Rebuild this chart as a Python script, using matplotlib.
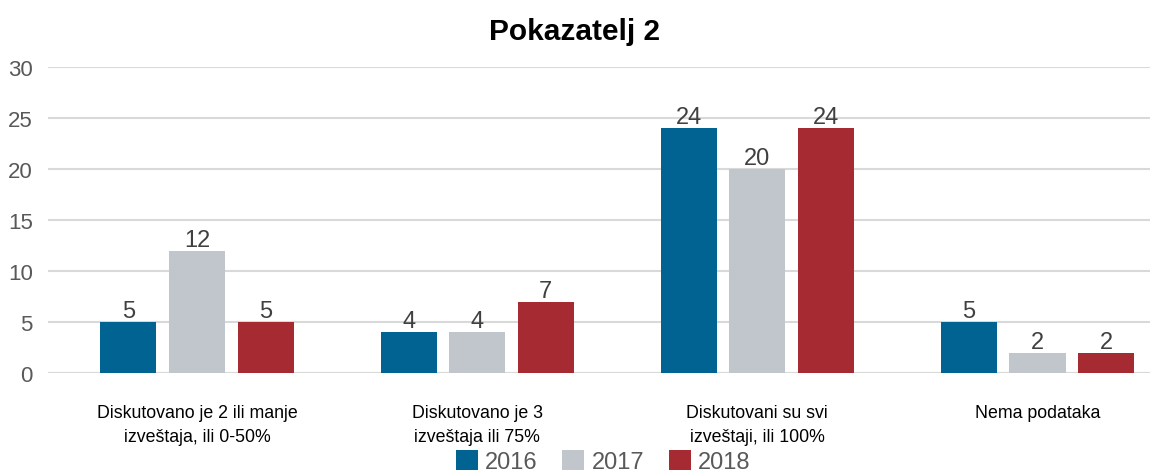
import matplotlib.pyplot as plt
import numpy as np

plt.rcParams['font.family'] = ['Liberation Sans', 'DejaVu Sans']

categories = ['Diskutovano je 2 ili manje\nizveštaja, ili 0-50%',
              'Diskutovano je 3\nizveštaja ili 75%',
              'Diskutovani su svi\nizveštaji, ili 100%',
              'Nema podataka']
years = ['2016', '2017', '2018']
v2016 = [5, 4, 24, 5]
v2017 = [12, 4, 20, 2]
v2018 = [5, 7, 24, 2]
colors = ['#006391', '#c0c6cc', '#a52a32']

fig = plt.figure(figsize=(11.6, 4.77), dpi=100)
ax = fig.add_axes([0.0414, 0.216, 0.9496, 0.641])

x = np.arange(len(categories))
offsets = [-0.245, 0, 0.245]
for vals, off, c, lab in zip([v2016, v2017, v2018], offsets, colors, years):
    bars = ax.bar(x + off, vals, width=0.2, color=c, label=lab, zorder=3)
    ax.bar_label(bars, padding=0, fontsize=17, color='#404040')

ax.set_ylim(0, 30)
ax.set_xlim(-0.532, 3.40)
ax.set_yticks(range(0, 31, 5))
ax.yaxis.grid(True, color='#d9d9d9', linewidth=1.5, zorder=0)
ax.set_axisbelow(True)
for s in ax.spines.values():
    s.set_visible(False)
ax.axhline(0, color='#d9d9d9', linewidth=1.5, zorder=1)
ax.tick_params(axis='y', length=0, pad=11, labelsize=16, labelcolor='#595959')
ax.set_xticks(x)
ax.set_xticklabels(categories, fontsize=12.8, linespacing=1.6)
ax.tick_params(axis='x', length=0, pad=22, labelcolor='#000000')

ax.set_title('Pokazatelj 2', fontsize=21.5, fontweight='bold', pad=20, x=0.478)

fig.legend(loc='center', bbox_to_anchor=(0.52, 0.03), ncol=3, frameon=False,
           fontsize=17, handlelength=0.93, handleheight=0.93, handletextpad=0.3,
           columnspacing=1.05, labelcolor='#595959')

fig.savefig('out.png', dpi=100)
